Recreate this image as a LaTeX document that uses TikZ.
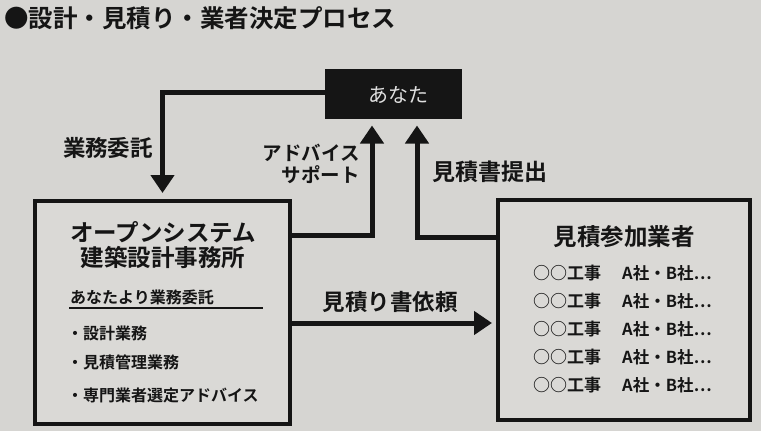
\documentclass[tikz,border=0pt]{standalone}
\usepackage{fontspec}
\usetikzlibrary{arrows.meta}
\newfontfamily\jp{Noto Sans CJK JP}[BoldFont={Noto Sans CJK JP Bold}]
\definecolor{bg}{HTML}{D6D5D2}
\definecolor{boxbg}{HTML}{DAD9D6}
\definecolor{ink}{HTML}{151515}
\tikzset{
  box/.style={draw=ink, line width=4pt, fill=boxbg, inner sep=0pt},
  flow/.style={draw=ink, line width=5pt, -{Triangle[width=23pt,length=18pt]}},
  lbl/.style={font=\jp\bfseries, text=ink, inner sep=0pt},
}
\begin{document}
\begin{tikzpicture}[x=1pt,y=-1pt]
\fill[bg] (0,0) rectangle (761,431);
\useasboundingbox (0,0) rectangle (761,431);

\node[lbl, anchor=west, font=\jp\bfseries\fontsize{24.5}{27}\selectfont] (title) at (4,18) {●設計・見積り・業者決定プロセス};

\node[draw=ink, fill=ink, line width=1pt, minimum width=136pt, minimum height=49pt] (you) at (393,93.5) {};
\node[font=\jp\fontsize{20}{22}\selectfont, text=white!88!black] (youtxt) at (398,95) {あなた};

\node[box, minimum width=255pt, minimum height=223pt] (left) at (162.5,312.5) {};
\node[box, minimum width=252pt, minimum height=220pt] (right) at (624,310) {};

% connectors
\draw[flow, shorten >=6pt] ([yshift=1.5pt]you.west) -| (left.north);
\draw[flow, shorten >=7pt] ([yshift=77.5pt]left.east) -| ([xshift=-21pt]you.south);
\draw[flow, shorten >=7pt] ([yshift=73pt]right.west) -| ([xshift=24pt]you.south);
\draw[flow, shorten >=4pt] ([yshift=-10.5pt]left.east) -- ([yshift=-13pt]right.west);

% connector labels
\node[lbl, font=\jp\bfseries\fontsize{22.5}{25}\selectfont] (l1) at (108,148) {業務委託};
\node[lbl, align=right, anchor=east, font=\jp\bfseries\fontsize{19.5}{22}\selectfont] (l2) at (360,164) {アドバイス\\サポート};
\node[lbl, font=\jp\bfseries\fontsize{23}{25}\selectfont] (l3) at (490,172) {見積書提出};
\node[lbl, font=\jp\bfseries\fontsize{22.5}{25}\selectfont] (l4) at (390,302) {見積り書依頼};

% left box content
\node[lbl, align=center, font=\jp\bfseries\fontsize{23.5}{25}\selectfont] (ltitle) at (163,245) {オープンシステム\\建築設計事務所};
\node[lbl, anchor=west, font=\jp\bfseries\fontsize{16}{18}\selectfont] (lsub) at (70,297) {あなたより業務委託};
\coordinate (ul1) at (69,308);
\coordinate (ul2) at (263,308);
\draw[ink, line width=1.8pt] (ul1) -- (ul2);
\node[lbl, anchor=west, font=\jp\bfseries\fontsize{16}{18}\selectfont] (li1) at (67,333) {・設計業務};
\node[lbl, anchor=west, font=\jp\bfseries\fontsize{16}{18}\selectfont] (li2) at (67,362) {・見積管理業務};
\node[lbl, anchor=west, font=\jp\bfseries\fontsize{16}{18}\selectfont] (li3) at (67,395) {・専門業者選定アドバイス};

% right box content
\node[lbl, font=\jp\bfseries\fontsize{23.5}{25}\selectfont] (rtitle) at (624,237) {見積参加業者};
\foreach \y/\n in {273/1,301/2,329/3,357/4,385/5}{
  \node[lbl, anchor=west, font=\jp\bfseries\fontsize{17}{19}\selectfont] (ra\n) at (533,\y) {○○工事};
  \node[lbl, anchor=west, font=\jp\bfseries\fontsize{16.5}{19}\selectfont] (rb\n) at (622,\y) {A社・B社⋯};
}
\end{tikzpicture}
\end{document}
